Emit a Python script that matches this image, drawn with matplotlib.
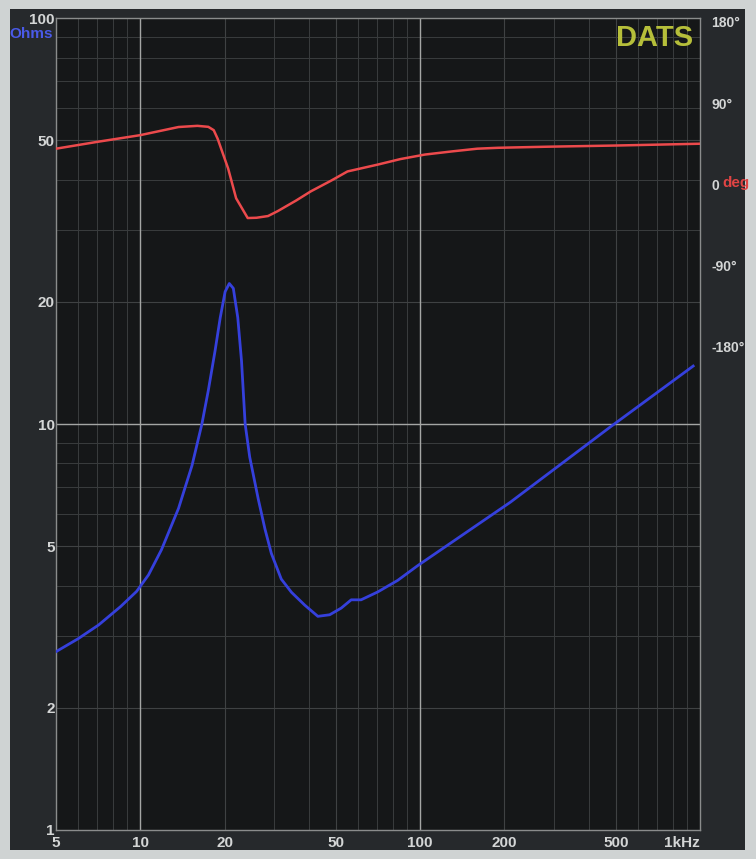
import matplotlib.pyplot as plt
from matplotlib.patches import Rectangle
from matplotlib.ticker import NullFormatter

# impedance curve (Hz, ohms)
imp_freq = [5, 6, 7.1, 8.5, 9.7, 10.7, 11.9, 13.7, 15.3, 16.6, 17.5, 18.5, 19.3,
            20.1, 20.8, 21.5, 22.3, 23.0, 23.7, 24.6, 26.4, 27.9, 29.4, 31.9, 34.7,
            38.7, 43.1, 47.5, 52.2, 56.7, 61.5, 70.6, 83.1, 98, 210, 477, 945]
imp_ohm = [2.75, 2.96, 3.2, 3.55, 3.87, 4.25, 4.9, 6.2, 7.9, 10.0, 12.1, 15.15, 18.27,
           21.2, 22.2, 21.6, 18.3, 14.3, 10.0, 8.3, 6.53, 5.51, 4.8, 4.15, 3.85,
           3.58, 3.36, 3.39, 3.52, 3.69, 3.69, 3.86, 4.12, 4.48, 6.42, 9.83, 13.9]

# phase curve (Hz, degrees)
ph_freq = [5, 7, 10, 13.7, 16, 17.5, 18.3, 18.9, 20.6, 22, 24.2, 26, 28.6, 31, 36,
           40.7, 48, 55, 70.8, 85, 104, 130, 160, 190, 285, 500, 1000]
ph_deg = [39.5, 47, 54.5, 63.5, 64.8, 63.7, 60, 50.5, 17.6, -15.4, -37.3, -37, -35.1,
          -29.6, -18, -7.7, 4, 14.3, 22, 28, 33, 36.5, 39.5, 40.5, 41.7, 43, 45]

ohm_ticks = [1, 2, 5, 10, 20, 50, 100]
freq_ticks = [5, 10, 20, 50, 100, 200, 500, 1000]
freq_labels = ['5', '10', '20', '50', '100', '200', '500', '1kHz']
deg_ticks = [180, 90, 0, -90, -180]
deg_labels = ['180°', '90°', '0', '-90°', '-180°']

txt = '#d4d6d6'
font = ['Liberation Sans', 'DejaVu Sans']

fig = plt.figure(figsize=(7.56, 8.59), dpi=100, facecolor='#cfd3d3')
fig.patches.append(Rectangle((0.013, 0.01), 0.973, 0.98, transform=fig.transFigure,
                             facecolor='#26292c', edgecolor='none', zorder=-10))

ax = fig.add_axes([0.0741, 0.0338, 0.8519, 0.945])
ax.set_facecolor('#151718')
ax.set_xscale('log')
ax.set_yscale('log')
ax.set_xlim(5, 1000)
ax.set_ylim(1, 100)

# grid: dim minor lines, brighter decades
ax.grid(True, which='minor', color='#3a3d3e', lw=0.7)
ax.grid(True, which='major', color='#3f4243', lw=0.8)
for f in [10, 100]:
    ax.axvline(f, color='#a4a6a4', lw=1.0, zorder=2)
ax.axhline(10, color='#a4a6a4', lw=1.0, zorder=2)
for s in ax.spines.values():
    s.set_color('#8a8c8c')
    s.set_linewidth(1.0)

ax.plot(imp_freq, imp_ohm, color='#3540dc', lw=2.0, zorder=3)

ax.set_yticks(ohm_ticks)
ax.set_yticklabels([str(v) for v in ohm_ticks])
ax.yaxis.set_minor_formatter(NullFormatter())
ax.set_xticks(freq_ticks)
ax.set_xticklabels(freq_labels)
ax.xaxis.set_minor_formatter(NullFormatter())
ax.tick_params(which='both', length=0, colors=txt)
ax.tick_params(axis='y', pad=1)
ax.tick_params(axis='x', pad=4)
for lab in ax.get_xticklabels() + ax.get_yticklabels():
    lab.set_fontfamily(font)
    lab.set_fontweight('bold')
    lab.set_fontsize(11)
    lab.set_color(txt)
ax.get_xticklabels()[-1].set_horizontalalignment('right')

# phase on right axis
ax2 = ax.twinx()
ax2.set_ylim(-715, 184)
ax2.plot(ph_freq, ph_deg, color='#ec4a4c', lw=1.8, zorder=3)
ax2.set_yticks(deg_ticks)
ax2.set_yticklabels(deg_labels)
ax2.tick_params(length=0, pad=8, colors=txt)
for lab in ax2.get_yticklabels():
    lab.set_fontfamily(font)
    lab.set_fontweight('bold')
    lab.set_fontsize(10)
for s in ax2.spines.values():
    s.set_visible(False)

fig.text(0.955, 1 - 183 / 859, 'deg', color='#e04444', fontsize=11, fontweight='bold',
         family=font, va='center', ha='left')
fig.text(0.013, 1 - 34 / 859, 'Ohms', color='#4a5ae8', fontsize=11, fontweight='bold',
         family=font, va='center', ha='left')
fig.text(0.866, 1 - 38 / 859, 'DATS', color='#b6bf3a', fontsize=21, fontweight='bold',
         family=font, va='center', ha='center')

fig.savefig('out.png', dpi=100, facecolor=fig.get_facecolor())
